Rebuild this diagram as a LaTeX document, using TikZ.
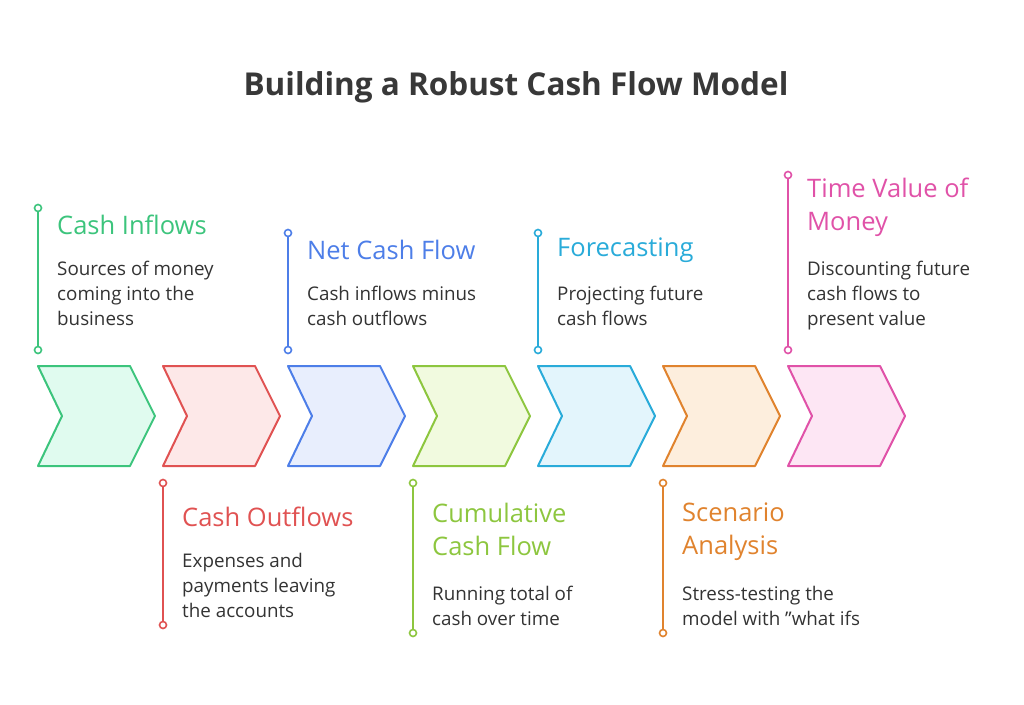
\documentclass[tikz,border=0pt]{standalone}
\usepackage{fontspec}
\setmainfont{Open Sans}
\begin{document}
\begin{tikzpicture}[x=1pt,y=-1pt,
 head/.style={anchor=west,font=\fontsize{25.5}{33}\selectfont,align=left,inner sep=0pt},
 body/.style={anchor=north west,font=\fontsize{18.8}{25}\selectfont,align=left,inner sep=0pt,text=black!80},
 dot/.style={circle,draw,line width=1.6pt,fill=white,minimum size=7pt,inner sep=0pt}]
\useasboundingbox (0,0) rectangle (1024,704);
\node[font=\fontsize{31.5}{36}\selectfont\bfseries,text=black!78] (title) at (516,87) {Building a Robust Cash Flow Model};
\def\chev#1#2#3#4{%
 \draw[#2,fill=#3,line width=2pt,line join=round] (#1,366)--++(92,0)--++(25,50)--++(-25,50)--++(-92,0)--++(24,-50)--cycle;
 \node (#4) at (#1+58,416) {};}
\definecolor{c1}{HTML}{3CC47C}\definecolor{f1}{HTML}{E0FBEF}
\definecolor{c2}{HTML}{E05252}\definecolor{f2}{HTML}{FDE8E8}
\definecolor{c3}{HTML}{4D7EE8}\definecolor{f3}{HTML}{E8EEFD}
\definecolor{c4}{HTML}{8DC63F}\definecolor{f4}{HTML}{F1FADF}
\definecolor{c5}{HTML}{29ABD9}\definecolor{f5}{HTML}{E3F5FC}
\definecolor{c6}{HTML}{E0832E}\definecolor{f6}{HTML}{FDEEDD}
\definecolor{c7}{HTML}{E052A8}\definecolor{f7}{HTML}{FDE6F4}
\chev{38}{c1}{f1}{ch1}\chev{163}{c2}{f2}{ch2}\chev{288}{c3}{f3}{ch3}\chev{413}{c4}{f4}{ch4}
\chev{538}{c5}{f5}{ch5}\chev{663}{c6}{f6}{ch6}\chev{788}{c7}{f7}{ch7}
% top
\node[dot,draw=c1] (a1) at (38,208) {}; \node[dot,draw=c1] (b1) at (38,350) {}; \draw[c1,line width=2pt] (a1)--(b1);
\node[head,text=c1] at (57,225) {Cash Inflows};
\node[body] at (57,261) {Sources of money\\coming into the\\business};
\node[dot,draw=c3] (a3) at (288,233) {}; \node[dot,draw=c3] (b3) at (288,350) {}; \draw[c3,line width=2pt] (a3)--(b3);
\node[head,text=c3] at (307,250) {Net Cash Flow};
\node[body] at (307,286) {Cash inflows minus\\cash outflows};
\node[dot,draw=c5] (a5) at (538,233) {}; \node[dot,draw=c5] (b5) at (538,350) {}; \draw[c5,line width=2pt] (a5)--(b5);
\node[head,text=c5] at (557,250) {Forecasting};
\node[body] at (557,286) {Projecting future\\cash flows};
\node[dot,draw=c7] (a7) at (788,175) {}; \node[dot,draw=c7] (b7) at (788,350) {}; \draw[c7,line width=2pt] (a7)--(b7);
\node[head,text=c7,anchor=north west] at (807,178) {Time Value of\\Money};
\node[body] at (807,261) {Discounting future\\cash flows to\\present value};
% bottom
\node[dot,draw=c2] (a2) at (163,483) {}; \node[dot,draw=c2] (b2) at (163,625) {}; \draw[c2,line width=2pt] (a2)--(b2);
\node[head,text=c2] at (182,517) {Cash Outflows};
\node[body] at (182,553) {Expenses and\\payments leaving\\the accounts};
\node[dot,draw=c4] (a4) at (413,483) {}; \node[dot,draw=c4] (b4) at (413,633) {}; \draw[c4,line width=2pt] (a4)--(b4);
\node[head,text=c4,anchor=north west] at (432,503) {Cumulative\\Cash Flow};
\node[body] at (432,586) {Running total of\\cash over time};
\node[dot,draw=c6] (a6) at (663,483) {}; \node[dot,draw=c6] (b6) at (663,633) {}; \draw[c6,line width=2pt] (a6)--(b6);
\node[head,text=c6,anchor=north west] at (682,503) {Scenario\\Analysis};
\node[body] at (682,586) {Stress-testing the\\model with \char34 what ifs};
\end{tikzpicture}
\end{document}
